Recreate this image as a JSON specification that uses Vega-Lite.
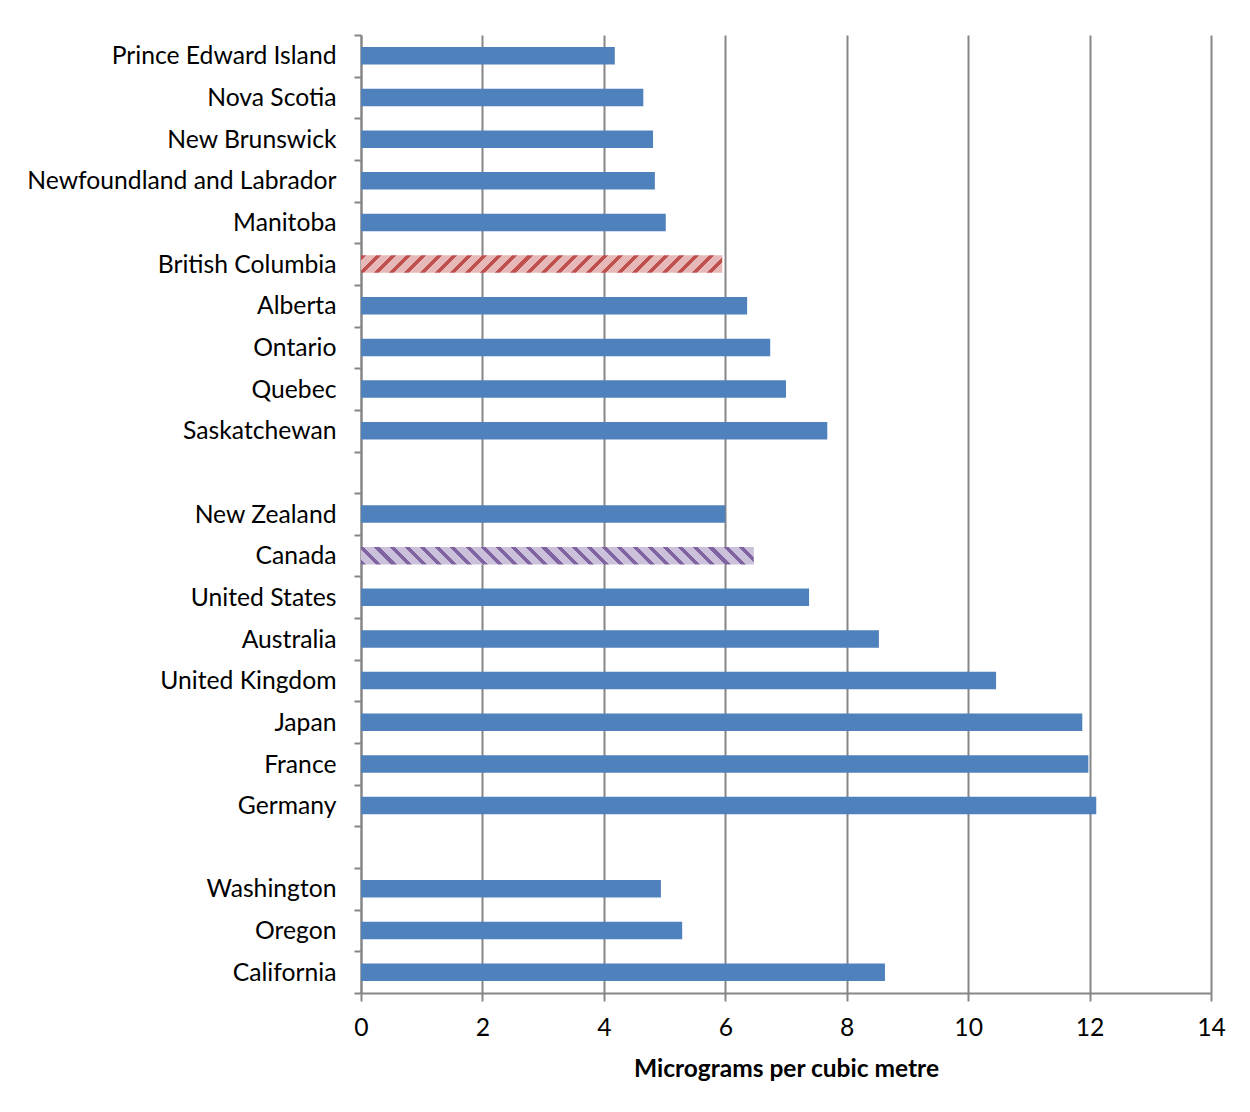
{
  "$schema": "https://vega.github.io/schema/vega-lite/v6.json",
  "autosize": {"type": "none"},
  "width": 850,
  "height": 958,
  "padding": {"left": 361, "top": 35, "right": 39, "bottom": 119},
  "background": "white",
  "config": {"view": {"stroke": null}, "font": "Lato"},
  "data": {"values": [
    {"name": "Prince Edward Island", "value": 4.18},
    {"name": "Nova Scotia", "value": 4.65},
    {"name": "New Brunswick", "value": 4.81},
    {"name": "Newfoundland and Labrador", "value": 4.84},
    {"name": "Manitoba", "value": 5.02},
    {"name": "British Columbia", "value": 5.95},
    {"name": "Alberta", "value": 6.36},
    {"name": "Ontario", "value": 6.74},
    {"name": "Quebec", "value": 7.0},
    {"name": "Saskatchewan", "value": 7.68},
    {"name": "New Zealand", "value": 6.0},
    {"name": "Canada", "value": 6.47},
    {"name": "United States", "value": 7.38},
    {"name": "Australia", "value": 8.53},
    {"name": "United Kingdom", "value": 10.46},
    {"name": "Japan", "value": 11.88},
    {"name": "France", "value": 11.98},
    {"name": "Germany", "value": 12.11},
    {"name": "Washington", "value": 4.94},
    {"name": "Oregon", "value": 5.29},
    {"name": "California", "value": 8.63}
  ]},
  "resolve": {"axis": {"y": "independent"}},
  "encoding": {
    "x": {
      "field": "value", "type": "quantitative",
      "scale": {"domain": [0, 14], "nice": false, "zero": true},
      "axis": {
        "values": [0, 2, 4, 6, 8, 10, 12, 14],
        "title": "Micrograms per cubic metre",
        "titleFont": "Lato", "titleFontSize": 24.5, "titleFontWeight": "bold", "titleColor": "#000000",
        "titlePadding": 18,
        "grid": true, "gridColor": "#868686", "gridWidth": 2,
        "domainColor": "#868686", "domainWidth": 2,
        "tickColor": "#868686", "tickWidth": 2, "tickSize": 8,
        "labelFont": "Lato", "labelFontSize": 24.7, "labelColor": "#000000",
        "labelPadding": 14, "labelFlush": false
      }
    }
  },
  "layer": [
    {
      "transform": [{"filter": "datum.name !== 'British Columbia' && datum.name !== 'Canada'"}],
      "mark": {"type": "bar", "fill": "#4F81BD"},
      "encoding": {
        "y": {
          "field": "name", "type": "nominal",
          "scale": {
            "domain": ["Prince Edward Island", "Nova Scotia", "New Brunswick", "Newfoundland and Labrador", "Manitoba", "British Columbia", "Alberta", "Ontario", "Quebec", "Saskatchewan", " ", "New Zealand", "Canada", "United States", "Australia", "United Kingdom", "Japan", "France", "Germany", "  ", "Washington", "Oregon", "California"],
            "paddingInner": 0.58, "paddingOuter": 0.29
          },
          "axis": {
            "title": null, "orient": "left",
            "domainColor": "#868686", "domainWidth": 2,
            "tickColor": "#868686", "tickWidth": 2, "tickSize": 7,
            "bandPosition": 0, "tickOffset": -12.08, "labelOffset": 13.2,
            "labelFont": "Lato", "labelFontSize": 24.7, "labelColor": "#000000",
            "labelPadding": 18, "labelLimit": 400, "grid": false
          }
        }
      }
    },
    {
      "transform": [{"filter": "datum.name === 'British Columbia'"}],
      "encoding": {
        "y": {
          "field": "name", "type": "nominal",
          "axis": {
            "title": null, "orient": "left", "values": ["California"],
            "domain": false, "labels": false, "grid": false,
            "tickColor": "#868686", "tickWidth": 2, "tickSize": 7,
            "bandPosition": 1, "tickOffset": 12.08
          }
        }
      },
      "mark": {"type": "bar", "fill": {
        "gradient": "linear", "x1": 0, "y1": 0, "x2": 1.046, "y2": 0.0507,
        "stops": [
          {"offset": 0, "color": "#C0504D"}, {"offset": 0.0133, "color": "#C0504D"}, {"offset": 0.0133, "color": "#E6B9B8"}, {"offset": 0.04, "color": "#E6B9B8"},
          {"offset": 0.04, "color": "#C0504D"}, {"offset": 0.0533, "color": "#C0504D"}, {"offset": 0.0533, "color": "#E6B9B8"}, {"offset": 0.08, "color": "#E6B9B8"},
          {"offset": 0.08, "color": "#C0504D"}, {"offset": 0.0933, "color": "#C0504D"}, {"offset": 0.0933, "color": "#E6B9B8"}, {"offset": 0.12, "color": "#E6B9B8"},
          {"offset": 0.12, "color": "#C0504D"}, {"offset": 0.1333, "color": "#C0504D"}, {"offset": 0.1333, "color": "#E6B9B8"}, {"offset": 0.16, "color": "#E6B9B8"},
          {"offset": 0.16, "color": "#C0504D"}, {"offset": 0.1733, "color": "#C0504D"}, {"offset": 0.1733, "color": "#E6B9B8"}, {"offset": 0.2, "color": "#E6B9B8"},
          {"offset": 0.2, "color": "#C0504D"}, {"offset": 0.2133, "color": "#C0504D"}, {"offset": 0.2133, "color": "#E6B9B8"}, {"offset": 0.24, "color": "#E6B9B8"},
          {"offset": 0.24, "color": "#C0504D"}, {"offset": 0.2533, "color": "#C0504D"}, {"offset": 0.2533, "color": "#E6B9B8"}, {"offset": 0.28, "color": "#E6B9B8"},
          {"offset": 0.28, "color": "#C0504D"}, {"offset": 0.2933, "color": "#C0504D"}, {"offset": 0.2933, "color": "#E6B9B8"}, {"offset": 0.32, "color": "#E6B9B8"},
          {"offset": 0.32, "color": "#C0504D"}, {"offset": 0.3333, "color": "#C0504D"}, {"offset": 0.3333, "color": "#E6B9B8"}, {"offset": 0.36, "color": "#E6B9B8"},
          {"offset": 0.36, "color": "#C0504D"}, {"offset": 0.3733, "color": "#C0504D"}, {"offset": 0.3733, "color": "#E6B9B8"}, {"offset": 0.4, "color": "#E6B9B8"},
          {"offset": 0.4, "color": "#C0504D"}, {"offset": 0.4133, "color": "#C0504D"}, {"offset": 0.4133, "color": "#E6B9B8"}, {"offset": 0.44, "color": "#E6B9B8"},
          {"offset": 0.44, "color": "#C0504D"}, {"offset": 0.4533, "color": "#C0504D"}, {"offset": 0.4533, "color": "#E6B9B8"}, {"offset": 0.48, "color": "#E6B9B8"},
          {"offset": 0.48, "color": "#C0504D"}, {"offset": 0.4933, "color": "#C0504D"}, {"offset": 0.4933, "color": "#E6B9B8"}, {"offset": 0.52, "color": "#E6B9B8"},
          {"offset": 0.52, "color": "#C0504D"}, {"offset": 0.5333, "color": "#C0504D"}, {"offset": 0.5333, "color": "#E6B9B8"}, {"offset": 0.56, "color": "#E6B9B8"},
          {"offset": 0.56, "color": "#C0504D"}, {"offset": 0.5733, "color": "#C0504D"}, {"offset": 0.5733, "color": "#E6B9B8"}, {"offset": 0.6, "color": "#E6B9B8"},
          {"offset": 0.6, "color": "#C0504D"}, {"offset": 0.6133, "color": "#C0504D"}, {"offset": 0.6133, "color": "#E6B9B8"}, {"offset": 0.64, "color": "#E6B9B8"},
          {"offset": 0.64, "color": "#C0504D"}, {"offset": 0.6533, "color": "#C0504D"}, {"offset": 0.6533, "color": "#E6B9B8"}, {"offset": 0.68, "color": "#E6B9B8"},
          {"offset": 0.68, "color": "#C0504D"}, {"offset": 0.6933, "color": "#C0504D"}, {"offset": 0.6933, "color": "#E6B9B8"}, {"offset": 0.72, "color": "#E6B9B8"},
          {"offset": 0.72, "color": "#C0504D"}, {"offset": 0.7333, "color": "#C0504D"}, {"offset": 0.7333, "color": "#E6B9B8"}, {"offset": 0.76, "color": "#E6B9B8"},
          {"offset": 0.76, "color": "#C0504D"}, {"offset": 0.7733, "color": "#C0504D"}, {"offset": 0.7733, "color": "#E6B9B8"}, {"offset": 0.8, "color": "#E6B9B8"},
          {"offset": 0.8, "color": "#C0504D"}, {"offset": 0.8133, "color": "#C0504D"}, {"offset": 0.8133, "color": "#E6B9B8"}, {"offset": 0.84, "color": "#E6B9B8"},
          {"offset": 0.84, "color": "#C0504D"}, {"offset": 0.8533, "color": "#C0504D"}, {"offset": 0.8533, "color": "#E6B9B8"}, {"offset": 0.88, "color": "#E6B9B8"},
          {"offset": 0.88, "color": "#C0504D"}, {"offset": 0.8933, "color": "#C0504D"}, {"offset": 0.8933, "color": "#E6B9B8"}, {"offset": 0.92, "color": "#E6B9B8"},
          {"offset": 0.92, "color": "#C0504D"}, {"offset": 0.9333, "color": "#C0504D"}, {"offset": 0.9333, "color": "#E6B9B8"}, {"offset": 0.96, "color": "#E6B9B8"},
          {"offset": 0.96, "color": "#C0504D"}, {"offset": 0.9733, "color": "#C0504D"}, {"offset": 0.9733, "color": "#E6B9B8"}, {"offset": 1, "color": "#E6B9B8"}
        ]
      }}
    },
    {
      "transform": [{"filter": "datum.name === 'Canada'"}],
      "encoding": {
        "y": {"field": "name", "type": "nominal", "axis": null}
      },
      "mark": {"type": "bar", "fill": {
        "gradient": "linear", "x1": 0, "y1": 1, "x2": 1.0425, "y2": 0.9536,
        "stops": [
          {"offset": 0, "color": "#8064A2"}, {"offset": 0.0123, "color": "#8064A2"}, {"offset": 0.0123, "color": "#CCC1DA"}, {"offset": 0.037, "color": "#CCC1DA"},
          {"offset": 0.037, "color": "#8064A2"}, {"offset": 0.0493, "color": "#8064A2"}, {"offset": 0.0493, "color": "#CCC1DA"}, {"offset": 0.074, "color": "#CCC1DA"},
          {"offset": 0.074, "color": "#8064A2"}, {"offset": 0.0863, "color": "#8064A2"}, {"offset": 0.0863, "color": "#CCC1DA"}, {"offset": 0.111, "color": "#CCC1DA"},
          {"offset": 0.111, "color": "#8064A2"}, {"offset": 0.1233, "color": "#8064A2"}, {"offset": 0.1233, "color": "#CCC1DA"}, {"offset": 0.148, "color": "#CCC1DA"},
          {"offset": 0.148, "color": "#8064A2"}, {"offset": 0.1603, "color": "#8064A2"}, {"offset": 0.1603, "color": "#CCC1DA"}, {"offset": 0.185, "color": "#CCC1DA"},
          {"offset": 0.185, "color": "#8064A2"}, {"offset": 0.1973, "color": "#8064A2"}, {"offset": 0.1973, "color": "#CCC1DA"}, {"offset": 0.222, "color": "#CCC1DA"},
          {"offset": 0.222, "color": "#8064A2"}, {"offset": 0.2343, "color": "#8064A2"}, {"offset": 0.2343, "color": "#CCC1DA"}, {"offset": 0.259, "color": "#CCC1DA"},
          {"offset": 0.259, "color": "#8064A2"}, {"offset": 0.2713, "color": "#8064A2"}, {"offset": 0.2713, "color": "#CCC1DA"}, {"offset": 0.296, "color": "#CCC1DA"},
          {"offset": 0.296, "color": "#8064A2"}, {"offset": 0.3083, "color": "#8064A2"}, {"offset": 0.3083, "color": "#CCC1DA"}, {"offset": 0.333, "color": "#CCC1DA"},
          {"offset": 0.333, "color": "#8064A2"}, {"offset": 0.3453, "color": "#8064A2"}, {"offset": 0.3453, "color": "#CCC1DA"}, {"offset": 0.37, "color": "#CCC1DA"},
          {"offset": 0.37, "color": "#8064A2"}, {"offset": 0.3823, "color": "#8064A2"}, {"offset": 0.3823, "color": "#CCC1DA"}, {"offset": 0.407, "color": "#CCC1DA"},
          {"offset": 0.407, "color": "#8064A2"}, {"offset": 0.4193, "color": "#8064A2"}, {"offset": 0.4193, "color": "#CCC1DA"}, {"offset": 0.444, "color": "#CCC1DA"},
          {"offset": 0.444, "color": "#8064A2"}, {"offset": 0.4563, "color": "#8064A2"}, {"offset": 0.4563, "color": "#CCC1DA"}, {"offset": 0.481, "color": "#CCC1DA"},
          {"offset": 0.481, "color": "#8064A2"}, {"offset": 0.4933, "color": "#8064A2"}, {"offset": 0.4933, "color": "#CCC1DA"}, {"offset": 0.518, "color": "#CCC1DA"},
          {"offset": 0.518, "color": "#8064A2"}, {"offset": 0.5303, "color": "#8064A2"}, {"offset": 0.5303, "color": "#CCC1DA"}, {"offset": 0.555, "color": "#CCC1DA"},
          {"offset": 0.555, "color": "#8064A2"}, {"offset": 0.5673, "color": "#8064A2"}, {"offset": 0.5673, "color": "#CCC1DA"}, {"offset": 0.592, "color": "#CCC1DA"},
          {"offset": 0.592, "color": "#8064A2"}, {"offset": 0.6043, "color": "#8064A2"}, {"offset": 0.6043, "color": "#CCC1DA"}, {"offset": 0.629, "color": "#CCC1DA"},
          {"offset": 0.629, "color": "#8064A2"}, {"offset": 0.6413, "color": "#8064A2"}, {"offset": 0.6413, "color": "#CCC1DA"}, {"offset": 0.666, "color": "#CCC1DA"},
          {"offset": 0.666, "color": "#8064A2"}, {"offset": 0.6783, "color": "#8064A2"}, {"offset": 0.6783, "color": "#CCC1DA"}, {"offset": 0.703, "color": "#CCC1DA"},
          {"offset": 0.703, "color": "#8064A2"}, {"offset": 0.7153, "color": "#8064A2"}, {"offset": 0.7153, "color": "#CCC1DA"}, {"offset": 0.74, "color": "#CCC1DA"},
          {"offset": 0.74, "color": "#8064A2"}, {"offset": 0.7523, "color": "#8064A2"}, {"offset": 0.7523, "color": "#CCC1DA"}, {"offset": 0.777, "color": "#CCC1DA"},
          {"offset": 0.777, "color": "#8064A2"}, {"offset": 0.7893, "color": "#8064A2"}, {"offset": 0.7893, "color": "#CCC1DA"}, {"offset": 0.814, "color": "#CCC1DA"},
          {"offset": 0.814, "color": "#8064A2"}, {"offset": 0.8263, "color": "#8064A2"}, {"offset": 0.8263, "color": "#CCC1DA"}, {"offset": 0.851, "color": "#CCC1DA"},
          {"offset": 0.851, "color": "#8064A2"}, {"offset": 0.8633, "color": "#8064A2"}, {"offset": 0.8633, "color": "#CCC1DA"}, {"offset": 0.888, "color": "#CCC1DA"},
          {"offset": 0.888, "color": "#8064A2"}, {"offset": 0.9003, "color": "#8064A2"}, {"offset": 0.9003, "color": "#CCC1DA"}, {"offset": 0.925, "color": "#CCC1DA"},
          {"offset": 0.925, "color": "#8064A2"}, {"offset": 0.9373, "color": "#8064A2"}, {"offset": 0.9373, "color": "#CCC1DA"}, {"offset": 0.962, "color": "#CCC1DA"},
          {"offset": 0.962, "color": "#8064A2"}, {"offset": 0.9743, "color": "#8064A2"}, {"offset": 0.9743, "color": "#CCC1DA"}, {"offset": 1, "color": "#CCC1DA"}
        ]
      }}
    }
  ]
}
